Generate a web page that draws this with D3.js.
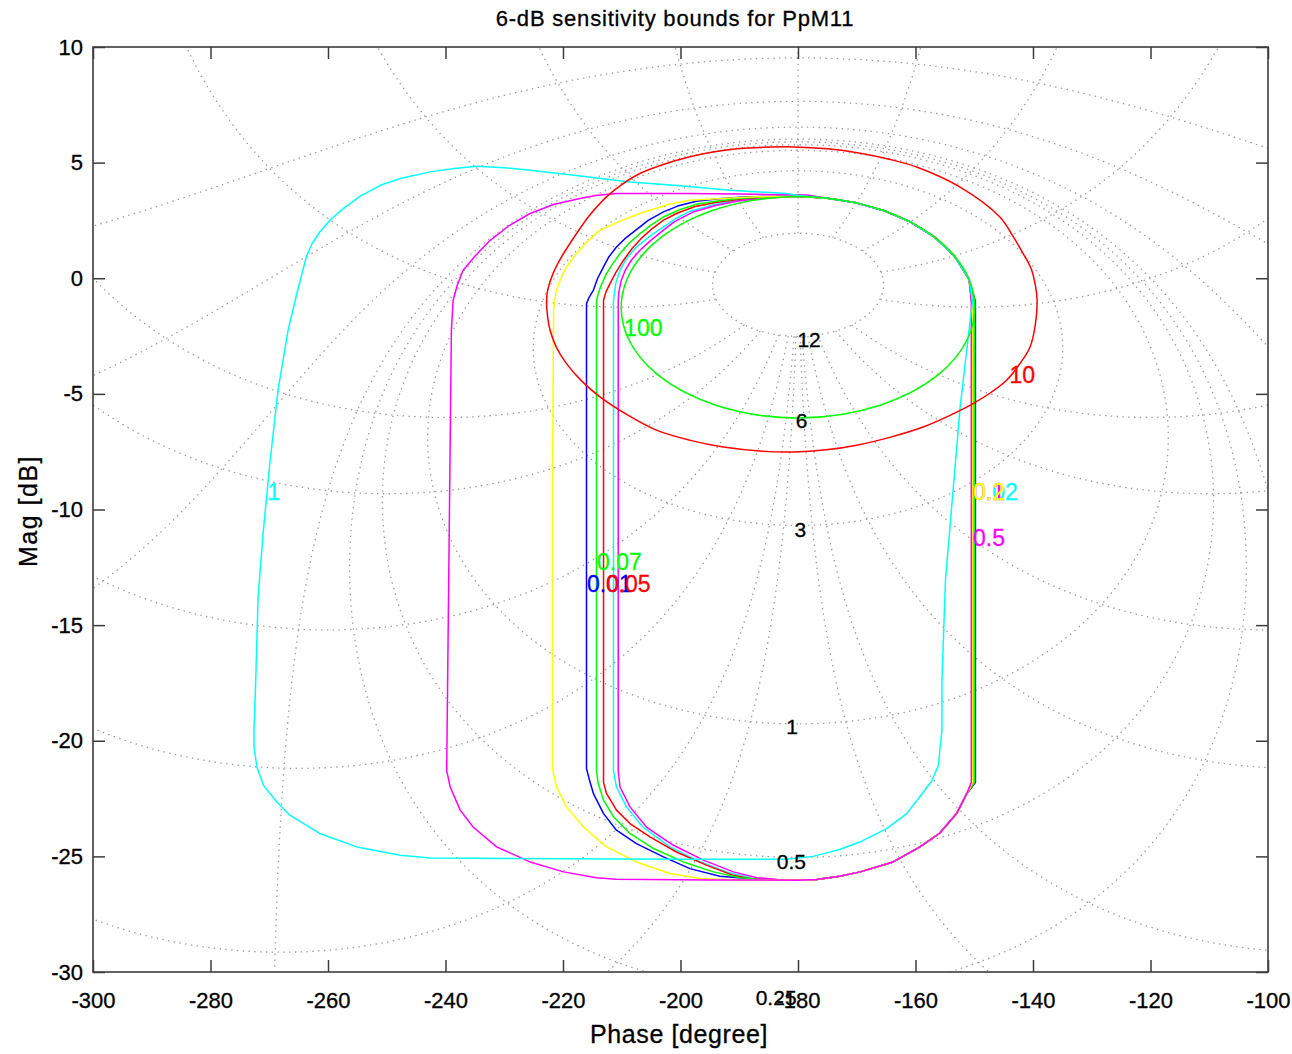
<!DOCTYPE html>
<html>
<head>
<meta charset="utf-8">
<script src="https://cdn.jsdelivr.net/npm/d3@7"></script>
<style>
  body { margin: 0; background: #fff; }
  text { font-family: "Liberation Sans", Arial, Helvetica, sans-serif; }
</style>
</head>
<body>
<svg id="chart" width="1292" height="1054"></svg>
<script>
// ---------- axes ----------
const phaseDomain = [-300, -100];
const magDomain = [-30, 10];
const xTickValues = [-300, -280, -260, -240, -220, -200, -180, -160, -140, -120, -100];
const xTickLabels = ["-300", "-280", "-260", "-240", "-220", "-200", "-180", "-160", "-140", "-120", "-100"];
const yTickValues = [-30, -25, -20, -15, -10, -5, 0, 5, 10];
const yTickLabels = ["-30", "-25", "-20", "-15", "-10", "-5", "0", "5", "10"];

// ---------- sensitivity grid (|S| = 1/|1+L|) ----------
const gridMagDb = [12, 6, 3, 1, 0.5, 0.25, 0, -1, -3, -6, -12, -20];
const gridPhaseDeg = [1, 2, 5, 10, 20, 30, 60, 90, 120, 150, 180, -1, -2, -5, -10, -20, -30, -60, -90, -120, -150];
const gridLabelText = ["12", "6", "3", "1", "0.5", "0.25"];
const gridLabelPhase = [-180.1, -180.4, -180.6, -182.0, -183.6, -187.2];
const gridLabelMag = [-2.64, -6.14, -10.88, -19.4, -25.2, -31.1];

// ---------- bounds: [phase deg, magnitude dB] ----------
const bound001 = [[-180,3.55],[-185,3.54],[-189.9,3.5],[-193.5,3.44],[-197.3,3.33],[-200.5,3.12],[-202.9,2.87],[-205.5,2.5],[-207.5,2.1],[-209.5,1.7],[-210.9,1.35],[-212.2,0.92],[-213.1,0.49],[-214.1,0.0],[-214.8,-0.5],[-215.6,-0.85],[-216.0,-1.1],[-216.0,-21.2],[-215.5,-21.7],[-214.8,-22.3],[-213.1,-23.15],[-210.9,-23.87],[-207.5,-24.45],[-202.9,-25.02],[-198.4,-25.53],[-193.3,-25.86],[-188.7,-25.96],[-184,-26.02],[-180,-26.03],[-176.8,-26.0],[-172.9,-25.86],[-169.4,-25.67],[-163.8,-25.24],[-159.3,-24.6],[-155.9,-24.0],[-153.0,-23.15],[-151.3,-22.3],[-149.8,-21.8],[-149.8,-1.0],[-150.9,-0.04],[-153.4,0.97],[-156.8,1.79],[-160.9,2.44],[-165.3,2.92],[-170.1,3.26],[-175.0,3.46],[-180,3.55]];
const bound002 = [[-180,3.55],[-185,3.48],[-190,3.38],[-194,3.2],[-198.4,2.9],[-201,2.55],[-202.9,2.22],[-205.3,1.8],[-207.5,1.35],[-209.2,0.85],[-210.3,0.35],[-211.0,-0.2],[-211.4,-0.95],[-211.4,-21.3],[-210.9,-22.0],[-209.2,-22.86],[-206.4,-23.73],[-201.8,-24.59],[-197.3,-25.16],[-192.2,-25.67],[-187.7,-25.96],[-184,-26.01],[-180,-26.03],[-176.8,-26.0],[-172.9,-25.86],[-169.4,-25.67],[-163.8,-25.24],[-159.3,-24.6],[-155.9,-24.0],[-153.0,-23.15],[-151.3,-22.3],[-150.1,-21.8],[-150.1,-1.0],[-150.9,-0.04],[-153.4,0.97],[-156.8,1.79],[-160.9,2.44],[-165.3,2.92],[-170.1,3.26],[-175.0,3.46],[-180,3.55]];
const bound005 = [[-180,3.55],[-185,3.5],[-190,3.42],[-194,3.28],[-197.5,3.1],[-200.5,2.82],[-202.9,2.51],[-204.8,2.15],[-206.4,1.79],[-208.2,1.3],[-209.7,0.78],[-211.0,0.25],[-212.0,-0.23],[-212.7,-0.6],[-213.1,-0.95],[-213.1,-21.8],[-212.6,-22.28],[-210.9,-23.0],[-208.6,-23.58],[-205.2,-24.16],[-200.7,-24.81],[-195.6,-25.38],[-191.0,-25.82],[-188.2,-25.96],[-184,-26.01],[-180,-26.03],[-176.8,-26.0],[-172.9,-25.86],[-169.4,-25.67],[-163.8,-25.24],[-159.3,-24.6],[-155.9,-24.0],[-153.0,-23.15],[-151.3,-22.3],[-149.9,-21.8],[-149.9,-1.0],[-150.9,-0.04],[-153.4,0.97],[-156.8,1.79],[-160.9,2.44],[-165.3,2.92],[-170.1,3.26],[-175.0,3.46],[-180,3.55]];
const bound007 = [[-180,3.55],[-185,3.52],[-190,3.45],[-194,3.33],[-197.3,3.2],[-200.3,2.95],[-202.9,2.65],[-205,2.3],[-206.9,1.93],[-208.8,1.5],[-210.3,1.07],[-211.6,0.6],[-212.6,0.2],[-213.5,-0.3],[-214.0,-0.66],[-214.3,-1.0],[-214.3,-21.3],[-214.0,-21.85],[-213.1,-22.57],[-211.4,-23.29],[-208.6,-24.01],[-204.6,-24.66],[-199.5,-25.24],[-194.4,-25.67],[-189.9,-25.92],[-185,-26.0],[-180,-26.03],[-176.8,-26.0],[-172.9,-25.86],[-169.4,-25.67],[-163.8,-25.24],[-159.3,-24.6],[-155.9,-24.0],[-153.0,-23.15],[-151.3,-22.3],[-150.0,-21.8],[-150.0,-1.0],[-150.9,-0.04],[-153.4,0.97],[-156.8,1.79],[-160.9,2.44],[-165.3,2.92],[-170.1,3.26],[-175.0,3.46],[-180,3.55]];
const bound01 = [[-180,3.55],[-185,3.47],[-190,3.35],[-194,3.15],[-198,2.85],[-201,2.45],[-202.9,2.08],[-205,1.65],[-206.9,1.21],[-208.3,0.8],[-209.4,0.35],[-210.1,-0.1],[-210.5,-0.6],[-210.6,-1.0],[-210.6,-21.3],[-210.3,-22.0],[-208.6,-22.86],[-205.8,-23.73],[-201.2,-24.52],[-196.1,-25.16],[-191.0,-25.67],[-187.0,-25.92],[-183.5,-26.0],[-180,-26.03],[-176.8,-26.0],[-172.9,-25.86],[-169.4,-25.67],[-163.8,-25.24],[-159.3,-24.6],[-155.9,-24.0],[-153.0,-23.15],[-151.3,-22.3],[-150.4,-21.8],[-150.4,-1.0],[-150.9,-0.04],[-153.4,0.97],[-156.8,1.79],[-160.9,2.44],[-165.3,2.92],[-170.1,3.26],[-175.0,3.46],[-180,3.55]];
const bound02 = [[-180,3.55],[-187,3.52],[-193,3.45],[-198.4,3.37],[-202,3.2],[-206.9,2.8],[-210.5,2.45],[-213.7,2.08],[-216.2,1.5],[-218.2,0.92],[-219.6,0.4],[-220.5,-0.09],[-221.2,-0.6],[-221.6,-1.38],[-221.8,-8.74],[-221.8,-21.2],[-221.1,-22.0],[-219.4,-22.86],[-216.5,-23.73],[-212.6,-24.59],[-207.5,-25.24],[-201.8,-25.74],[-196.6,-25.96],[-190,-26.02],[-180,-26.03],[-176.8,-26.0],[-172.9,-25.86],[-169.4,-25.67],[-163.8,-25.24],[-159.3,-24.6],[-155.9,-24.0],[-153.0,-23.15],[-151.3,-22.3],[-150.3,-21.8],[-150.3,-1.0],[-150.9,-0.04],[-153.4,0.97],[-156.8,1.79],[-160.9,2.44],[-165.3,2.92],[-170.1,3.26],[-175.0,3.46],[-180,3.55]];
const bound05 = [[-178.5,3.6],[-190,3.64],[-199,3.66],[-210.9,3.66],[-214.5,3.58],[-217.1,3.45],[-221.5,3.2],[-225.6,2.8],[-229.3,2.25],[-232.4,1.64],[-235.0,0.95],[-237.0,0.35],[-238.0,-0.3],[-238.7,-0.95],[-239.0,-2.25],[-239.8,-21.28],[-239.2,-22.0],[-237.5,-23.0],[-235.3,-23.73],[-231.3,-24.59],[-225.6,-25.24],[-219.9,-25.67],[-214.3,-25.92],[-210.9,-25.99],[-195,-26.02],[-180,-26.03],[-176.8,-26.0],[-172.9,-25.86],[-169.4,-25.67],[-163.8,-25.24],[-159.3,-24.6],[-155.9,-24.0],[-153.0,-23.15],[-151.3,-22.3],[-150.5,-21.8],[-150.5,-1.0],[-150.9,-0.04],[-153.4,0.97],[-156.8,1.79],[-160.9,2.44],[-165.3,2.92],[-170.1,3.26],[-175.0,3.46],[-178.5,3.6]];
const bound1 = [[-181.9,3.66],[-191.6,3.81],[-200,4.0],[-208.6,4.16],[-217,4.42],[-225.6,4.67],[-230,4.78],[-234.7,4.84],[-238.5,4.75],[-242.6,4.6],[-247.7,4.31],[-251.1,4.02],[-254.5,3.55],[-257.4,3.01],[-259.5,2.55],[-261.4,2.0],[-262.7,1.5],[-263.7,0.92],[-265.3,-0.66],[-266.8,-2.25],[-268.5,-4.84],[-269.9,-8.01],[-271.0,-10.9],[-271.9,-13.78],[-272.3,-17.38],[-272.6,-19.55],[-272.6,-20.27],[-272.1,-21.13],[-271.0,-21.92],[-268.7,-22.65],[-266.5,-23.22],[-261.4,-24.01],[-255.1,-24.59],[-247.7,-24.95],[-242.6,-25.07],[-220,-25.1],[-200,-25.12],[-182,-25.12],[-177.4,-25.0],[-172.9,-24.7],[-169.4,-24.37],[-164.9,-23.8],[-161.5,-23.15],[-159.3,-22.43],[-157.2,-21.73],[-156.1,-21.06],[-155.8,-20.27],[-155.5,-19.55],[-155.5,-17.38],[-154.9,-13.06],[-152.4,-5.57],[-151.0,-2.5],[-150.3,-1.0],[-150.9,-0.04],[-153.4,0.97],[-156.8,1.79],[-160.9,2.44],[-165.3,2.92],[-170.1,3.26],[-175.0,3.46],[-180,3.58],[-181.9,3.66]];
const bound10 = [[-180.8,5.68],[-186,5.66],[-189.9,5.61],[-194.5,5.46],[-198.4,5.25],[-202.8,4.93],[-206.9,4.53],[-210,4.05],[-212.6,3.52],[-215.6,2.68],[-218.2,1.74],[-220.3,0.9],[-221.7,0.2],[-222.6,-0.5],[-222.8,-1.0],[-222.6,-1.7],[-222.2,-2.25],[-221.1,-3.0],[-219.4,-3.69],[-216.8,-4.45],[-213.7,-5.13],[-209.1,-5.9],[-204.1,-6.57],[-198.5,-7.0],[-192.7,-7.3],[-186.5,-7.47],[-180.8,-7.51],[-175.2,-7.42],[-170.0,-7.22],[-164.4,-6.88],[-158.7,-6.43],[-154.4,-5.96],[-150.2,-5.42],[-147.1,-4.93],[-144.5,-4.41],[-142.3,-3.72],[-140.5,-2.97],[-139.6,-2.0],[-139.3,-0.95],[-139.6,-0.3],[-140.3,0.4],[-141.7,1.08],[-143.5,1.85],[-145.6,2.64],[-152.4,3.94],[-159.7,4.8],[-164.5,5.15],[-169.4,5.41],[-175.0,5.6]];
const bound100 = [[-180,-6.04],[-194.1,-5.48],[-203.9,-4.17],[-208.8,-2.66],[-210.1,-1.25],[-209.1,-0.04],[-206.6,0.97],[-203.2,1.79],[-199.1,2.44],[-194.7,2.92],[-189.9,3.26],[-185.0,3.46],[-180,3.53],[-175.0,3.46],[-170.1,3.26],[-165.3,2.92],[-160.9,2.44],[-156.8,1.79],[-153.4,0.97],[-150.9,-0.04],[-149.9,-1.25],[-151.2,-2.66],[-156.1,-4.17],[-165.9,-5.48]];

const boundFreqs = ["0.01", "0.02", "0.05", "0.07", "0.1", "0.2", "0.5", "1", "10", "100"];
const boundColors = ["#0000ff", "#00ffff", "#ff0000", "#00ff00", "#ff00ff", "#ffff00", "#ff00ff", "#00ffff", "#ff0000", "#00ff00"];
const boundPoints = [bound001, bound002, bound005, bound007, bound01, bound02, bound05, bound1, bound10, bound100];
const boundClosedSmooth = [false, false, false, false, false, false, false, false, true, true];
const labelPhase = [-215.9, -150.2, -212.7, -214.2, -150.2, -150.2, -150.2, -270.3, -144.0, -209.6];
const labelMag = [-13.23, -9.21, -13.23, -12.24, -9.21, -9.21, -11.2, -9.21, -4.19, -2.16];

// ---------- layout ----------
const plot = { left: 93, right: 1268, top: 47, bottom: 972 };
const svg = d3.select("#chart");
const x = d3.scaleLinear().domain(phaseDomain).range([plot.left, plot.right]);
const y = d3.scaleLinear().domain(magDomain).range([plot.bottom, plot.top]);

svg.append("defs").append("clipPath").attr("id", "plotClip")
  .append("rect").attr("x", plot.left).attr("y", plot.top)
  .attr("width", plot.right - plot.left).attr("height", plot.bottom - plot.top);

// ---------- grid curves ----------
const toRad = Math.PI / 180;
const dbToLin = d => Math.pow(10, d / 20);
function unwrapNear(p, prev) {
  while (p - prev > 180) p -= 360;
  while (p - prev < -180) p += 360;
  return p;
}
function nicholsPoint(re, im, prev) {
  const ph = unwrapNear(Math.atan2(im, re) / toRad, prev);
  const mag = 20 * Math.log10(Math.max(Math.hypot(re, im), 1e-6));
  return [ph, mag];
}
const gridCurves = [];
// constant |S| contours: circles |1+L| = rho around the critical point
gridMagDb.forEach(m => {
  const rho = 1 / dbToLin(m);
  let prev = m > 0 ? -180 : (m === 0 ? -270 : -360);
  const pts = [];
  const N = 3000;
  for (let i = 0; i <= N; i++) {
    let a = (i / N) * 2 * Math.PI;
    if (m === 0) a = 1e-5 + (i / N) * (2 * Math.PI - 2e-5);
    const p = nicholsPoint(-1 + rho * Math.cos(a), rho * Math.sin(a), prev);
    prev = p[0];
    pts.push(p);
  }
  gridCurves.push(pts);
});
// constant arg S contours: rays leaving the critical point
const rayStart = 1 / dbToLin(gridMagDb[0]);
const rayEnd = 20;
gridPhaseDeg.forEach(t => {
  const th = t * toRad;
  let prev = -180;
  const pts = [];
  const N = 6000;
  for (let i = 0; i <= N; i++) {
    const r = rayStart * Math.pow(rayEnd / rayStart, i / N);
    const p = nicholsPoint(-1 + r * Math.cos(th), r * Math.sin(th), prev);
    prev = p[0];
    pts.push(p);
  }
  gridCurves.push(pts);
});

const line = d3.line().x(d => x(d[0])).y(d => y(Math.max(d[1], -200)));
const gridG = svg.append("g").attr("clip-path", "url(#plotClip)");
gridG.selectAll("path").data(gridCurves).join("path")
  .attr("d", line)
  .attr("fill", "none")
  .attr("stroke", "#9a9a9a")
  .attr("stroke-width", 1.3)
  .attr("stroke-dasharray", "1.4 4.4");

// ---------- bounds ----------
const lineOpen = d3.line().x(d => x(d[0])).y(d => y(d[1]));
const lineSmooth = d3.line().x(d => x(d[0])).y(d => y(d[1])).curve(d3.curveCatmullRomClosed.alpha(0.5));
const boundG = svg.append("g").attr("clip-path", "url(#plotClip)");
boundPoints.forEach((pts, i) => {
  boundG.append("path")
    .attr("d", boundClosedSmooth[i] ? lineSmooth(pts) : lineOpen(pts))
    .attr("fill", "none")
    .attr("stroke", boundColors[i])
    .attr("stroke-width", 1.5)
    .attr("stroke-linejoin", "round");
});

// ---------- grid labels ----------
svg.append("g").selectAll("text").data(gridLabelText).join("text")
  .attr("x", (d, i) => x(gridLabelPhase[i]))
  .attr("y", (d, i) => y(gridLabelMag[i]))
  .attr("dy", "0.36em")
  .attr("font-size", 21)
  .attr("fill", "#000")
  .attr("stroke", "#000").attr("stroke-width", 0.3)
  .text(d => d);

// ---------- bound frequency labels ----------
svg.append("g").selectAll("text").data(boundFreqs).join("text")
  .attr("x", (d, i) => x(labelPhase[i]))
  .attr("y", (d, i) => y(labelMag[i]))
  .attr("dy", "0.36em")
  .attr("font-size", 23)
  .attr("fill", (d, i) => boundColors[i])
  .attr("stroke", (d, i) => boundColors[i]).attr("stroke-width", 0.3)
  .text(d => d);

// ---------- axes box and ticks ----------
const axisColor = "#3c3c3c";
function styleAxis(g) {
  g.select(".domain").remove();
  g.selectAll(".tick line").attr("stroke", axisColor).attr("stroke-width", 1.5);
  g.selectAll(".tick text").attr("fill", "#000").attr("font-size", 22)
    .attr("stroke", "#000").attr("stroke-width", 0.3)
    .attr("font-family", "'Liberation Sans', Arial, Helvetica, sans-serif");
}
svg.append("g").attr("transform", `translate(0,${plot.bottom})`)
  .call(d3.axisBottom(x).tickValues(xTickValues).tickSize(-12).tickPadding(20)
    .tickFormat((d, i) => xTickLabels[i]))
  .call(styleAxis);
svg.append("g").attr("transform", `translate(0,${plot.top})`)
  .call(d3.axisTop(x).tickValues(xTickValues).tickSize(-12).tickFormat(""))
  .call(styleAxis);
svg.append("g").attr("transform", `translate(${plot.left},0)`)
  .call(d3.axisLeft(y).tickValues(yTickValues).tickSize(-12).tickPadding(10)
    .tickFormat((d, i) => yTickLabels[i]))
  .call(styleAxis);
svg.append("g").attr("transform", `translate(${plot.right},0)`)
  .call(d3.axisRight(y).tickValues(yTickValues).tickSize(-12).tickFormat(""))
  .call(styleAxis);
svg.append("rect")
  .attr("x", plot.left).attr("y", plot.top)
  .attr("width", plot.right - plot.left).attr("height", plot.bottom - plot.top)
  .attr("fill", "none").attr("stroke", axisColor).attr("stroke-width", 1.6);

// ---------- titles ----------
svg.append("text").attr("x", 675).attr("y", 26).attr("text-anchor", "middle")
  .attr("font-size", 22).attr("letter-spacing", 0.8).attr("fill", "#000")
  .attr("stroke", "#000").attr("stroke-width", 0.3)
  .text("6-dB sensitivity bounds for PpM11");
svg.append("text").attr("x", 679).attr("y", 1043).attr("text-anchor", "middle")
  .attr("font-size", 25).attr("letter-spacing", 0.6).attr("fill", "#000")
  .attr("stroke", "#000").attr("stroke-width", 0.3)
  .text("Phase [degree]");
svg.append("text").attr("transform", "translate(37,511) rotate(-90)").attr("text-anchor", "middle")
  .attr("font-size", 25).attr("letter-spacing", 1.5).attr("fill", "#000")
  .attr("stroke", "#000").attr("stroke-width", 0.3)
  .text("Mag [dB]");
</script>
</body>
</html>
